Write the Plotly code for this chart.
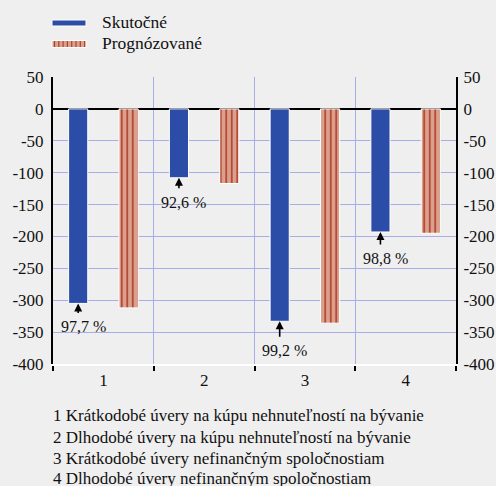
import plotly.graph_objects as go

categories = [1, 2, 3, 4]
tick_labels = ["1", "2", "3", "4"]
actual = [-305, -108, -333, -193]
forecast = [-312, -117, -336, -195]
pct_labels = ["97,7 %", "92,6 %", "99,2 %", "98,8 %"]
series_names = ["Skutočné", "Prognózované"]
footnotes = [
    "1 Krátkodobé úvery na kúpu nehnuteľností na bývanie",
    "2 Dlhodobé úvery na kúpu nehnuteľností na bývanie",
    "3 Krátkodobé úvery nefinančným spoločnostiam",
    "4 Dlhodobé úvery nefinančným spoločnostiam",
]
y_ticks = [50, 0, -50, -100, -150, -200, -250, -300, -350, -400]

W, H = 496, 486
L, R, T, B = 53, 40, 77, 122
PW, PH = W - L - R, H - T - B
BG = "#EFEFEF"
FONT = "Liberation Serif"
BLUE = "#2B4DA7"
SALMON = "#D9A18B"
STRIPE = "#B4402F"
GRID = "#A8ADE3"


def px_x(px):
    return (px - L) / PW


def px_y(py):
    return (H - B - py) / PH


fig = go.Figure()
fig.add_trace(go.Bar(
    x=categories, y=actual, name=series_names[0],
    marker=dict(color=BLUE, line=dict(color="white", width=1)),
    showlegend=False,
))
fig.add_trace(go.Bar(
    x=categories, y=forecast, name=series_names[1],
    marker=dict(color=SALMON, line=dict(color="white", width=1),
                pattern=dict(shape="|", fgcolor=STRIPE, bgcolor=SALMON,
                             size=5.5, solidity=0.3, fillmode="replace")),
    showlegend=False,
))
# invisible trace for right axis
fig.add_trace(go.Scatter(x=[categories[0]], y=[0], yaxis="y2", mode="markers",
                         marker=dict(opacity=0), showlegend=False, hoverinfo="skip"))

annotations = []
arrow_len = [11, 12, 17, 14]
for c, v, lab, al in zip(categories, actual, pct_labels, arrow_len):
    annotations.append(dict(
        x=c - 0.25, y=v, xref="x", yref="y", text="", showarrow=True,
        ax=0, ay=al, axref="pixel", ayref="pixel",
        arrowhead=2, arrowsize=1, arrowwidth=1.6, arrowcolor="black",
    ))
    annotations.append(dict(
        x=c - 0.25, y=v, xref="x", yref="y", text=lab, showarrow=False,
        yanchor="top", xanchor="center", xshift=5, yshift=-(al + 2),
        font=dict(family=FONT, size=16, color="#111111"),
    ))

# legend (manual)
legend_y = [22, 43]
shapes = []
shapes.append(dict(type="rect", xref="paper", yref="paper",
                   x0=px_x(52), x1=px_x(86), y0=px_y(26), y1=px_y(20),
                   fillcolor=BLUE, line=dict(color="white", width=1), layer="above"))
shapes.append(dict(type="rect", xref="paper", yref="paper",
                   x0=px_x(52), x1=px_x(86), y0=px_y(47.5), y1=px_y(40.5),
                   fillcolor=SALMON, line=dict(color="white", width=1), layer="above"))
for i in range(8):
    sx = 54.5 + i * 4.3
    shapes.append(dict(type="line", xref="paper", yref="paper",
                       x0=px_x(sx), x1=px_x(sx), y0=px_y(47), y1=px_y(41),
                       line=dict(color=STRIPE, width=1.2), layer="above"))
for name, ly in zip(series_names, legend_y):
    annotations.append(dict(
        x=px_x(100), y=px_y(ly), xref="paper", yref="paper", text=name,
        showarrow=False, xanchor="left", yanchor="middle",
        font=dict(family=FONT, size=17.5, color="#111111"),
    ))

foot_y = [415.5, 437, 458, 478.5]
for txt, fy in zip(footnotes, foot_y):
    annotations.append(dict(
        x=px_x(51), y=px_y(fy), xref="paper", yref="paper", text=txt,
        showarrow=False, xanchor="left", yanchor="middle",
        font=dict(family=FONT, size=17, color="#111111"),
    ))

yaxis_common = dict(
    range=[-400, 50], tickvals=y_ticks, ticktext=[str(t) for t in y_ticks],
    tickfont=dict(family=FONT, size=17, color="#111111"),
    showline=True, linecolor="black", linewidth=2, ticks="", automargin=False,
)

fig.update_layout(
    width=W, height=H,
    margin=dict(l=L, r=R, t=T, b=B, pad=0),
    paper_bgcolor=BG, plot_bgcolor=BG,
    font=dict(family=FONT),
    barmode="group", bargap=0.0, bargroupgap=0.62,
    showlegend=False,
    xaxis=dict(
        range=[0.5, 4.5], tickvals=categories, ticktext=tick_labels,
        tickfont=dict(family=FONT, size=17, color="#111111"),
        showgrid=False, ticks="", zeroline=False, automargin=False,
        showline=True, linecolor="white", linewidth=2,
        minor=dict(tickvals=[0.5, 1.5, 2.5, 3.5, 4.5], showgrid=True,
                   gridcolor=GRID, gridwidth=1, ticks="outside",
                   ticklen=5, tickwidth=2, tickcolor="black"),
    ),
    yaxis=dict(**yaxis_common, side="left", showgrid=True, gridcolor=GRID,
               gridwidth=1, zeroline=True, zerolinecolor="black", zerolinewidth=2,
               ticklabelstandoff=4),
    yaxis2=dict(**yaxis_common, side="right", overlaying="y", showgrid=False,
                zeroline=False, ticklabelstandoff=2),
    annotations=annotations,
    shapes=shapes,
)

fig.write_html("out.html", post_script="document.body.style.margin='0';",
               config={"displayModeBar": False})
